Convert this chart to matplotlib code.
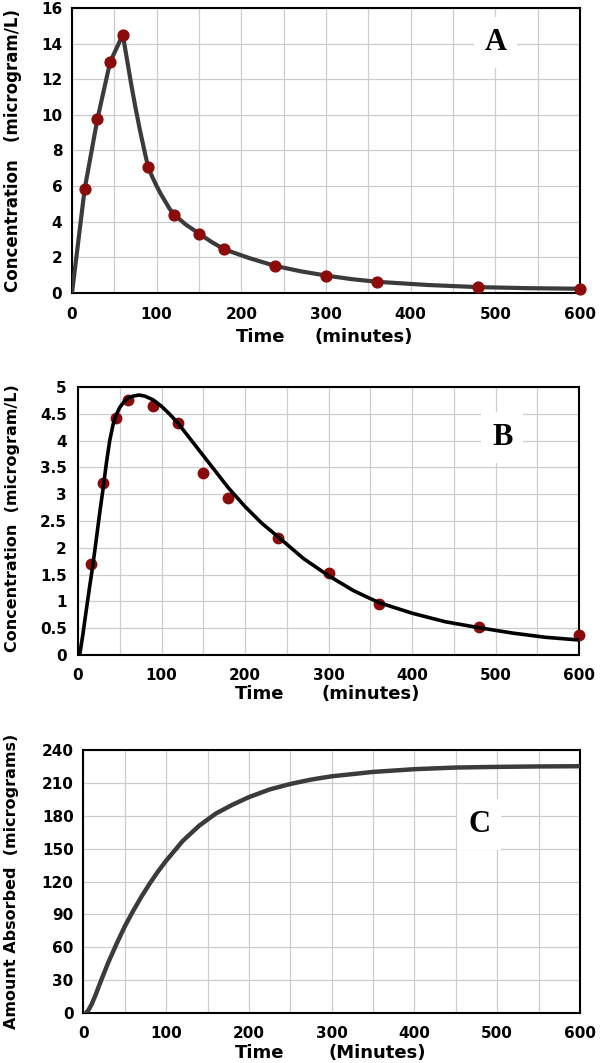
import matplotlib
matplotlib.use("Agg")
import matplotlib.pyplot as plt
import numpy as np

# ---------------- data ----------------
# Panel A (observed concentration, microgram/L)
a_time = [15, 30, 45, 60, 90, 120, 150, 180, 240, 300, 360, 480, 600]
a_conc = [5.85, 9.76, 12.96, 14.5, 7.05, 4.4, 3.34, 2.45, 1.52, 0.98, 0.63, 0.33, 0.25]
# Panel A fitted curve
a_curve_t = [0, 15, 30, 45, 60, 65, 70, 75, 80, 85, 90, 95, 100, 105, 110, 115, 120,
             135, 150, 165, 180, 210, 240, 270, 300, 330, 360, 420, 480, 540, 600]
a_curve_c = [0, 5.85, 9.76, 12.96, 14.5, 13.1, 11.7, 10.4, 9.2, 8.1, 7.05, 6.5, 6.0,
             5.55, 5.15, 4.75, 4.42, 3.82, 3.34, 2.86, 2.45, 1.95, 1.52, 1.22, 0.98,
             0.78, 0.63, 0.45, 0.33, 0.27, 0.24]

# Panel B (observed concentration, microgram/L)
b_time = [15, 30, 45, 60, 90, 120, 150, 180, 240, 300, 360, 480, 600]
b_conc = [1.7, 3.2, 4.43, 4.75, 4.65, 4.33, 3.4, 2.92, 2.18, 1.53, 0.95, 0.53, 0.38]
# Panel B fitted curve
b_curve_t = [2, 6, 10, 14, 18, 22, 26, 30, 34, 38, 42, 45, 50, 55, 60, 66, 73, 80, 90,
             100, 110, 120, 140, 160, 180, 200, 220, 240, 270, 300, 330, 360, 400, 440,
             480, 520, 560, 600]
b_curve_c = [0, 0.4, 0.85, 1.28, 1.7, 2.17, 2.65, 3.1, 3.58, 4.0, 4.3, 4.45, 4.62, 4.72,
             4.79, 4.83, 4.85, 4.83, 4.76, 4.64, 4.49, 4.32, 3.92, 3.52, 3.12, 2.77,
             2.46, 2.2, 1.8, 1.48, 1.2, 0.98, 0.78, 0.62, 0.51, 0.41, 0.33, 0.28]

# Panel C (amount absorbed, micrograms)
c_time = [3, 6, 10, 15, 20, 30, 40, 50, 60, 70, 80, 90, 100, 120, 140, 160, 180, 200,
          225, 250, 275, 300, 350, 400, 450, 500, 550, 600]
c_amount = [0, 2.5, 8, 17, 27, 46, 63, 79, 93, 106, 118, 129, 139, 157, 171, 182, 190,
            197, 204, 209, 213, 216, 220, 222.5, 224, 224.6, 225, 225.2]

x_ticks = [0, 100, 200, 300, 400, 500, 600]
a_yticks = [0, 2, 4, 6, 8, 10, 12, 14, 16]
b_yticks = [0, 0.5, 1, 1.5, 2, 2.5, 3, 3.5, 4, 4.5, 5]
b_yticklabels = ["0", "0.5", "1", "1.5", "2", "2.5", "3", "3.5", "4", "4.5", "5"]
c_yticks = [0, 30, 60, 90, 120, 150, 180, 210, 240]

# ---------------- style ----------------
plt.rcParams['font.family'] = ['DejaVu Sans']
plt.rcParams['font.weight'] = 'bold'

W, H = 600, 1063
fig = plt.figure(figsize=(W / 100, H / 100), dpi=100)


def ax_rect(x0, y0, x1, y1):
    return [x0 / W, 1 - y1 / H, (x1 - x0) / W, (y1 - y0) / H]


def ftext(x, y, s, **kw):
    fig.text(x / W, 1 - y / H, s, ha='center', va='center', **kw)


GRID = '#cdcdcd'
RED = '#8b0b0b'
GRAY = '#3b3b3b'


def style_axes(ax, xpad, ypad):
    ax.set_xlim(0, 600)
    ax.set_xticks(x_ticks)
    ax.set_xticks(np.arange(50, 600, 100), minor=True)
    ax.grid(True, which='both', color=GRID, lw=0.9)
    ax.set_axisbelow(True)
    ax.tick_params(which='both', length=0)
    ax.tick_params(axis='x', pad=xpad, labelsize=11)
    ax.tick_params(axis='y', pad=ypad, labelsize=11)
    for sp in ax.spines.values():
        sp.set_linewidth(1.5)
        sp.set_color('black')


# Panel A
axA = fig.add_axes(ax_rect(72, 8, 580, 293))
axA.plot(a_curve_t, a_curve_c, color=GRAY, lw=3.0, zorder=3, solid_joinstyle='round')
axA.plot(a_time, a_conc, 'o', color=RED, ms=7.8, zorder=4, clip_on=False)
axA.set_ylim(0, 16)
axA.set_yticks(a_yticks)
style_axes(axA, 10, 7)
axA.text(500, 13.64, 'A', family='Liberation Serif', fontsize=22, fontweight='bold',
         ha='center', va='baseline', zorder=5,
         bbox=dict(boxstyle='square,pad=0.35', fc='white', ec='none'))
ftext(13, 150.5, 'Concentration   (microgram/L)', rotation=90, fontsize=12, fontweight='bold')
ftext(260.5, 337, 'Time', fontsize=13, fontweight='bold')
ftext(364, 337, '(minutes)', fontsize=13, fontweight='bold')

# Panel B
axB = fig.add_axes(ax_rect(78, 387, 579, 655))
axB.plot(b_time, b_conc, 'o', color=RED, ms=7.5, zorder=3, clip_on=False)
axB.plot(b_curve_t, b_curve_c, color='black', lw=2.6, zorder=4, solid_joinstyle='round')
axB.set_ylim(0, 5)
axB.set_yticks(b_yticks)
axB.set_yticklabels(b_yticklabels)
style_axes(axB, 9, 8)
axB.text(508, 3.92, 'B', family='Liberation Serif', fontsize=22, fontweight='bold',
         ha='center', va='baseline', zorder=5,
         bbox=dict(boxstyle='square,pad=0.35', fc='white', ec='none'))
ftext(12.5, 518, 'Concentration  (microgram/L)', rotation=90, fontsize=11.5, fontweight='bold')
ftext(260, 694, 'Time', fontsize=13, fontweight='bold')
ftext(370.5, 694, '(minutes)', fontsize=13, fontweight='bold')

# Panel C
axC = fig.add_axes(ax_rect(83.4, 750, 580, 1013))
axC.plot(c_time, c_amount, color=GRAY, lw=3.2, zorder=3, solid_joinstyle='round')
axC.set_ylim(0, 240)
axC.set_yticks(c_yticks)
style_axes(axC, 9, 7)
axC.text(478, 165, 'C', family='Liberation Serif', fontsize=22, fontweight='bold',
         ha='center', va='baseline', zorder=5,
         bbox=dict(boxstyle='square,pad=0.35', fc='white', ec='none'))
ftext(12, 881, 'Amount Absorbed  (micrograms)', rotation=90, fontsize=11.5, fontweight='bold')
ftext(260, 1053, 'Time', fontsize=13, fontweight='bold')
ftext(377.5, 1053, '(Minutes)', fontsize=13, fontweight='bold')

fig.savefig('out.png', dpi=100, facecolor='white')
